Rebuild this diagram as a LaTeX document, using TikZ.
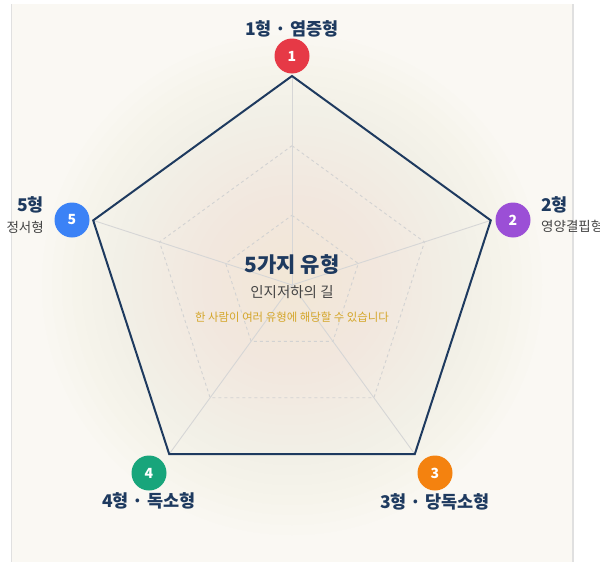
\documentclass[tikz,border=0pt]{standalone}
\usepackage{fontspec}
\setmainfont{Noto Sans CJK KR}
\usetikzlibrary{calc}
\definecolor{navy}{HTML}{1E3A5F}
\definecolor{panel}{HTML}{FAF8F3}
\definecolor{glowin}{HTML}{F2E7C8}
\definecolor{spoke}{HTML}{D6D6D6}
\definecolor{dashc}{HTML}{D2D2D2}
\definecolor{gold}{HTML}{D4A62A}
\definecolor{subgray}{HTML}{444444}
\definecolor{cred}{HTML}{E63946}
\definecolor{cpurple}{HTML}{9B4FD6}
\definecolor{corange}{HTML}{F4820F}
\definecolor{cgreen}{HTML}{18A57B}
\definecolor{cblue}{HTML}{3B82F6}
\tikzset{
  badge/.style={circle, fill=#1, minimum size=35pt, inner sep=0pt, text=white, font=\fontsize{14}{14}\selectfont\bfseries},
  vlabel/.style={text=navy, font=\fontsize{17.5}{19}\selectfont\bfseries, inner sep=0pt},
  vsub/.style={text=subgray, font=\fontsize{13.5}{15}\selectfont, inner sep=0pt},
  outline/.style={draw=navy, line width=2pt, line join=miter},
  spokeline/.style={draw=spoke, line width=0.9pt},
  grid/.style={draw=dashc, line width=0.9pt, dash pattern=on 3pt off 3pt}
}
\begin{document}
\begin{tikzpicture}[x=1pt,y=-1pt]
\useasboundingbox (0,0) rectangle (600,562);
\fill[white] (0,0) rectangle (600,562);
\fill[panel] (12,4) rectangle (573,562);
\coordinate (c) at (292,285);
\foreach \r in {250,240,...,10} \fill[glowin, fill opacity=0.028] (c) circle (\r);
\draw[draw=black!12, line width=1.5pt] (11.5,4) -- (11.5,562);
\draw[draw=black!12, line width=1.5pt] (573,4) -- (573,562);
% geometry
\coordinate (v1) at (292,76);
\coordinate (v2) at (490.8,220.4);
\coordinate (v3) at (414.8,454.1);
\coordinate (v4) at (169.2,454.1);
\coordinate (v5) at (93.2,220.4);
% dashed grid pentagons
\draw[grid] (292,145.7) -- (424.5,242.0) -- (373.9,397.7) -- (210.1,397.7) -- (159.5,242.0) -- cycle;
\draw[grid] (292,215.3) -- (358.3,263.5) -- (332.9,341.4) -- (251.1,341.4) -- (225.7,263.5) -- cycle;
% spokes
\foreach \v in {v1,v2,v3,v4,v5} \draw[spokeline] (c) -- (\v);
% outline
\draw[outline] (v1) -- (v2) -- (v3) -- (v4) -- (v5) -- cycle;
% center text
\node[text=navy, font=\fontsize{21}{23}\selectfont\bfseries, inner sep=0pt] (title) at (292,265) {5가지 유형};
\node[text=subgray, font=\fontsize{14.5}{16}\selectfont, inner sep=0pt] (subtitle) at (292,292) {인지저하의 길};
\node[text=gold, font=\fontsize{11.4}{13}\selectfont, inner sep=0pt] (note) at (292,317) {한 사람이 여러 유형에 해당할 수 있습니다};
% badges
\node[badge=cred] (n1) at (292,56) {1};
\node[badge=cpurple] (n2) at (513,220) {2};
\node[badge=corange] (n3) at (435,473) {3};
\node[badge=cgreen] (n4) at (149,473) {4};
\node[badge=cblue] (n5) at (72,220) {5};
% labels
\node[vlabel] (l1) at (292,29) {1형 · 염증형};
\node[vlabel, anchor=west] (l2) at (541,205) {2형};
\node[vsub, anchor=west] (s2) at (541,226) {영양결핍형};
\node[vlabel] (l3) at (435,502) {3형 · 당독소형};
\node[vlabel] (l4) at (149,501) {4형 · 독소형};
\node[vlabel, anchor=east] (l5) at (44,205) {5형};
\node[vsub, anchor=east] (s5) at (44,227) {정서형};
\end{tikzpicture}
\end{document}
